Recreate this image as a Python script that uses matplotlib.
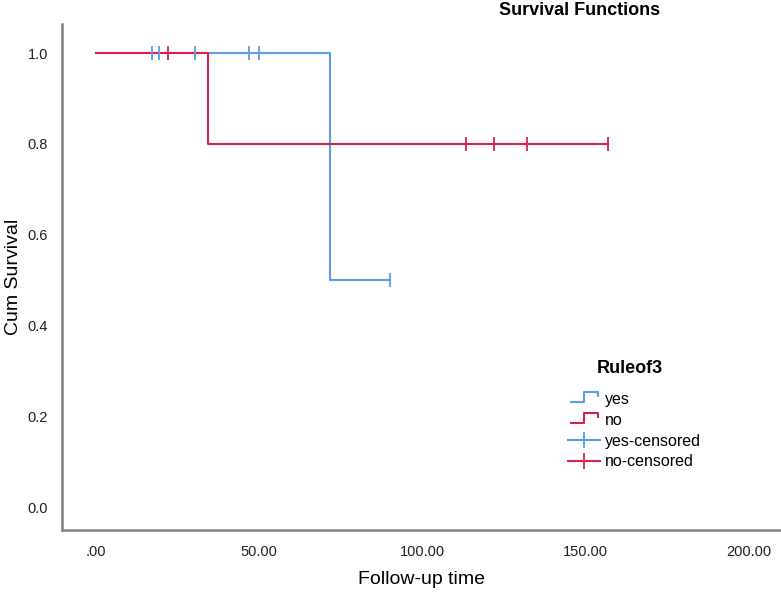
import matplotlib
matplotlib.use("Agg")
import matplotlib.pyplot as plt
from matplotlib.lines import Line2D
from matplotlib.path import Path

plt.rcParams['font.family'] = ['Liberation Sans', 'DejaVu Sans']

# Kaplan-Meier step data
yes_time = [0, 71.6, 90]
yes_surv = [1.0, 0.5, 0.5]
yes_cens_t = [17.1, 19.3, 30.3, 46.8, 49.9, 90]
yes_cens_s = [1.0, 1.0, 1.0, 1.0, 1.0, 0.5]

no_time = [0, 34.2, 157]
no_surv = [1.0, 0.8, 0.8]
no_cens_t = [22, 113.5, 122, 132, 157]
no_cens_s = [1.0, 0.8, 0.8, 0.8, 0.8]

xticks = [0, 50, 100, 150, 200]
xtick_labels = ['.00', '50.00', '100.00', '150.00', '200.00']
yticks = [0.0, 0.2, 0.4, 0.6, 0.8, 1.0]

blue = '#5a9ee8'
red = '#d9214a'

fig = plt.figure(figsize=(7.81, 5.94), dpi=100)
ax = fig.add_axes([0.0794, 0.1077, 0.9206, 0.852])

ax.step(yes_time, yes_surv, where='post', color=blue, lw=1.5)
ax.step(no_time, no_surv, where='post', color=red, lw=1.5)
ax.plot(yes_cens_t, yes_cens_s, ls='none', marker='|', ms=10, mew=1.3, color=blue)
ax.plot(no_cens_t, no_cens_s, ls='none', marker='|', ms=10, mew=1.3, color=red)

ax.set_xlim(-10.5, 210)
ax.set_ylim(-0.05, 1.064)
ax.set_xticks(xticks)
ax.set_xticklabels(xtick_labels)
ax.set_yticks(yticks)
ax.set_yticklabels(['%.1f' % v for v in yticks])
ax.tick_params(length=0, labelsize=10.5, pad=11, colors='#222222')
ax.tick_params(axis='y', pad=10)
for s in ['top', 'right']:
    ax.spines[s].set_visible(False)
for s in ['left', 'bottom']:
    ax.spines[s].set_color('#808080')
    ax.spines[s].set_linewidth(1.8)

ax.set_xlabel('Follow-up time', fontsize=14)
ax.set_ylabel('Cum Survival', fontsize=14)
ax.xaxis.set_label_coords(0.5, -0.08)
ax.yaxis.set_label_coords(-0.056, 0.5)
fig.text(0.742, 0.982, 'Survival Functions', fontsize=13, fontweight='bold',
         ha='center', va='center')

# legend
step_path = Path([(-1, -0.3), (0, -0.3), (0, 0.4), (1, 0.4), (1, 0.05)],
                 [Path.MOVETO, Path.LINETO, Path.LINETO, Path.LINETO, Path.LINETO])
handles = [
    Line2D([], [], ls='none', marker=step_path, ms=20, mew=1.5, fillstyle='none',
           markeredgecolor=blue),
    Line2D([], [], ls='none', marker=step_path, ms=20, mew=1.5, fillstyle='none',
           markeredgecolor=red),
    Line2D([], [], color=blue, lw=1.5, marker='|', ms=12, mew=1.3),
    Line2D([], [], color=red, lw=1.5, marker='|', ms=12, mew=1.3),
]
labels = ['yes', 'no', 'yes-censored', 'no-censored']
fig.legend(handles, labels, loc='upper left', bbox_to_anchor=(0.727, 0.34),
           frameon=False, fontsize=11.5, handlelength=2.0, handletextpad=0.3,
           labelspacing=0.36, borderaxespad=0, borderpad=0)
fig.text(0.764, 0.38, 'Ruleof3', fontsize=13, fontweight='bold',
         ha='left', va='center')

fig.savefig('out.png', dpi=100)
